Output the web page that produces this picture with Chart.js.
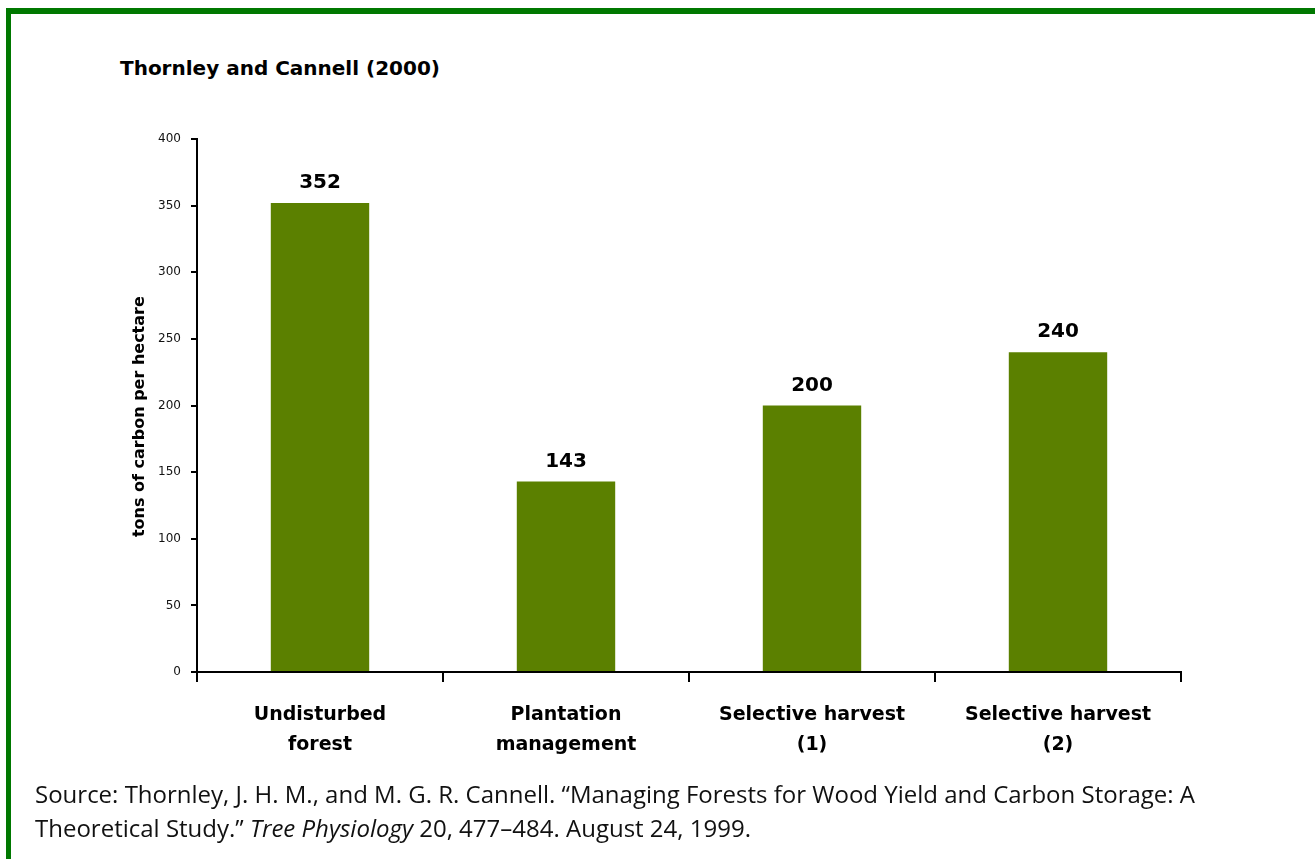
<!DOCTYPE html>
<html>
<head>
<meta charset="utf-8">
<script src="https://cdn.jsdelivr.net/npm/chart.js@4"></script>
<style>
  html, body { margin: 0; padding: 0; background: #fff; }
  body { width: 1315px; height: 859px; position: relative; overflow: hidden; }
  .frame {
    position: absolute; left: 6px; top: 8px; width: 1400px; height: 900px;
    border-top: 6px solid #007800; border-left: 5px solid #007800;
  }
  .title {
    position: absolute; left: 120px; top: 58px;
    font: bold 20px "DejaVu Sans", sans-serif; line-height: 1; color: #000;
  }
  .source {
    position: absolute; left: 35px; top: 777px;
    font: 24px "Open Sans", sans-serif; line-height: 34px; color: #111;
  }
  #performanceChart { position: absolute; left: 0; top: 0; }
</style>
</head>
<body>
<div class="frame"></div>
<div class="title">Thornley and Cannell (2000)</div>
<canvas id="performanceChart" width="1315" height="859"></canvas>
<div class="source">Source: Thornley, J. H. M., and M. G. R. Cannell. “Managing Forests for Wood Yield and Carbon Storage: A<br>Theoretical Study.” <i>Tree Physiology</i> 20, 477–484. August 24, 1999.</div>
<script>
// Carbon stored under each management regime (tons of carbon per hectare)
const categories = [
  ["Undisturbed", "forest"],
  ["Plantation", "management"],
  ["Selective harvest", "(1)"],
  ["Selective harvest", "(2)"],
];
const carbonValues = [352, 143, 200, 240];
const yTicks = [0, 50, 100, 150, 200, 250, 300, 350, 400];

// draws the value above each bar
const valueLabels = {
  id: "valueLabels",
  afterDatasetsDraw(chart) {
    const ctx = chart.ctx;
    const meta = chart.getDatasetMeta(0);
    ctx.save();
    ctx.font = "bold 20px 'DejaVu Sans', sans-serif";
    ctx.fillStyle = "#000";
    ctx.textAlign = "center";
    ctx.textBaseline = "middle";
    meta.data.forEach((bar, i) => {
      ctx.fillText(String(carbonValues[i]), bar.x, bar.y - 20);
    });
    ctx.restore();
  },
};

const ctx = document.getElementById("performanceChart").getContext("2d");

const carbonChart = new Chart(ctx, {
  type: "bar",
  data: {
    labels: categories,
    datasets: [
      {
        data: carbonValues,
        backgroundColor: "#5b8000",
        borderWidth: 0,
        categoryPercentage: 1,
        barPercentage: 0.4,
      },
    ],
  },
  options: {
    responsive: false,
    animation: false,
    devicePixelRatio: 1,
    layout: { padding: { left: 118, top: 139, right: 134, bottom: 87 } },
    plugins: {
      legend: { display: false },
      tooltip: { enabled: false },
    },
    scales: {
      x: {
        afterFit: (s) => { s.height = 100; },
        grid: {
          offset: true,
          drawOnChartArea: false,
          tickLength: 10,
          color: "#000",
          lineWidth: 2,
        },
        border: { display: true, color: "#000", width: 2 },
        ticks: {
          autoSkip: false,
          maxRotation: 0,
          padding: 18,
          color: "#000",
          font: { family: "'DejaVu Sans', sans-serif", size: 19, weight: "bold", lineHeight: 1.579 },
        },
      },
      y: {
        min: 0,
        max: 400,
        afterFit: (s) => { s.width = 79; },
        afterBuildTicks: (s) => { s.ticks = yTicks.map((v) => ({ value: v })); },
        grid: {
          drawOnChartArea: false,
          tickLength: 6,
          color: "#000",
          lineWidth: 2,
        },
        border: { display: true, color: "#000", width: 2 },
        ticks: {
          padding: 10,
          color: "#111",
          font: { family: "'DejaVu Sans', sans-serif", size: 12 },
        },
        title: {
          display: true,
          // trailing spaces nudge the rotated title a little lower
          text: "tons of carbon per hectare    ",
          color: "#000",
          padding: { top: 12, bottom: 0 },
          font: { family: "'DejaVu Sans', sans-serif", size: 16, weight: "bold" },
        },
      },
    },
  },
  plugins: [valueLabels],
});
</script>
</body>
</html>
